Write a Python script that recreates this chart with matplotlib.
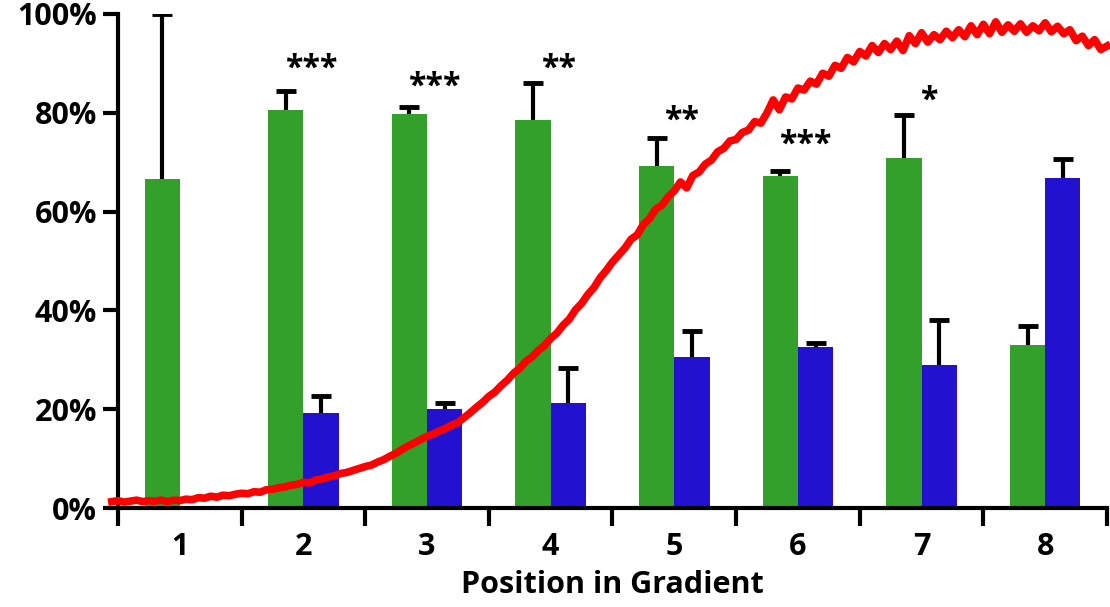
import numpy as np
import matplotlib.pyplot as plt

plt.rcParams['font.family'] = ['Open Sans', 'DejaVu Sans']
plt.rcParams['font.weight'] = 'bold'

positions = [1, 2, 3, 4, 5, 6, 7, 8]
green_vals = [66.5, 80.6, 79.8, 78.5, 69.2, 67.2, 70.9, 33.0]
green_err = [33.5, 3.9, 1.4, 7.5, 5.7, 1.1, 8.6, 3.8]
blue_vals = [0, 19.2, 20.0, 21.2, 30.5, 32.5, 28.9, 66.7]
blue_err = [0, 3.5, 1.2, 7.2, 5.4, 1.0, 9.2, 3.9]

stars = ['', '***', '***', '**', '**', '***', '*', '']
star_y = [0, 87.2, 83.5, 87.0, 76.5, 71.8, 80.7, 0]

# gradient trace, sampled every 0.05 from 0.45 to 8.50
curve_start = 0.45
curve_step = 0.05
curve_y = [
    1.3, 1.5, 1.2, 1.4, 1.6, 1.3, 1.5, 1.4, 1.6, 1.3,
    1.6, 1.5, 1.8, 1.7, 2.1, 2.0, 2.4, 2.2, 2.6, 2.5,
    2.8, 3.0, 2.9, 3.3, 3.2, 3.7, 3.8, 4.1, 4.3, 4.6,
    4.8, 5.2, 5.1, 5.7, 5.9, 6.3, 6.5, 7.0, 7.2, 7.6,
    8.0, 8.4, 8.7, 9.3, 9.8, 10.5, 11.1, 11.9, 12.6, 13.2,
    13.9, 14.5, 15.0, 15.6, 16.1, 16.8, 17.3, 18.3, 19.3, 20.4,
    21.4, 22.6, 23.5, 24.8, 25.9, 27.3, 28.3, 29.7, 30.6, 31.9,
    32.9, 34.3, 35.4, 37.0, 38.2, 40.1, 41.4, 43.2, 44.6, 46.6,
    48.1, 49.8, 51.2, 52.6, 54.4, 55.3, 57.4, 58.6, 60.5, 61.3,
    63.0, 64.2, 66.0, 64.8, 67.3, 68.0, 69.6, 70.4, 72.1, 72.8,
    74.3, 74.6, 76.0, 76.5, 78.2, 77.9, 80.0, 82.6, 80.6, 83.2,
    82.8, 85.0, 84.6, 86.4, 85.8, 88.0, 87.4, 89.6, 89.0, 91.2,
    90.3, 92.4, 91.5, 93.6, 92.2, 94.0, 92.8, 94.5, 92.6, 95.6,
    94.0, 96.2, 94.3, 95.8, 94.8, 96.5, 95.2, 96.8, 95.4, 97.6,
    95.8, 97.9, 96.0, 98.4, 96.3, 97.8, 96.5, 98.0, 96.3, 97.6,
    96.6, 98.2, 96.4, 97.5, 96.0, 96.8, 94.6, 95.5, 93.6, 94.8,
    92.8, 93.5,
]

green = '#33a02c'
blue = '#2211cf'
w = 0.285

fig = plt.figure(figsize=(11.1, 6.07), dpi=100)
ax = fig.add_axes([0.1063, 0.163, 0.891, 0.814])

x = np.array(positions, dtype=float)
ax.bar(x - w / 2, green_vals, width=w, color=green, zorder=2)
ax.bar(x + w / 2, blue_vals, width=w, color=blue, zorder=2)

# upper-only error bars, no cap at the bar top
for offset, vals, errs in [(-w / 2, green_vals, green_err),
                           (w / 2, blue_vals, blue_err)]:
    ex = [xi + offset for xi, v in zip(x, vals) if v > 0]
    lo = [v for v in vals if v > 0]
    hi = [v + e for v, e in zip(vals, errs) if v > 0]
    ax.vlines(ex, lo, hi, colors='black', linewidth=3, zorder=4)
    ax.plot(ex, hi, ls='none', marker='_', ms=14, mew=3.5,
            color='black', zorder=4)

cx = curve_start + curve_step * np.arange(len(curve_y))
ax.plot(cx, curve_y, color='#ff0000', lw=5.5, zorder=3, clip_on=False)

for xi, s, sy in zip(x, stars, star_y):
    if s:
        ax.text(xi + 0.06, sy, s, ha='center', va='baseline',
                fontsize=23, fontweight='bold')

ax.set_xlim(0.5, 8.5)
ax.set_ylim(0, 100)
ax.spines['top'].set_visible(False)
ax.spines['right'].set_visible(False)
ax.spines['left'].set_linewidth(3)
ax.spines['bottom'].set_linewidth(3)

ax.set_yticks([0, 20, 40, 60, 80, 100])
ax.set_yticklabels(['0%', '20%', '40%', '60%', '80%', '100%'])
ax.tick_params(axis='y', length=11, width=3, pad=4, labelsize=22)

ax.set_xticks(positions)
ax.set_xticklabels([str(p) for p in positions])
ax.set_xticks(np.arange(0.5, 9.0, 1.0), minor=True)
ax.tick_params(axis='x', which='major', length=0, pad=17, labelsize=22)
ax.tick_params(axis='x', which='minor', length=13, width=3)

ax.set_xlabel('Position in Gradient', fontsize=22, fontweight='bold',
              labelpad=6)

fig.savefig('out.png', dpi=100)
